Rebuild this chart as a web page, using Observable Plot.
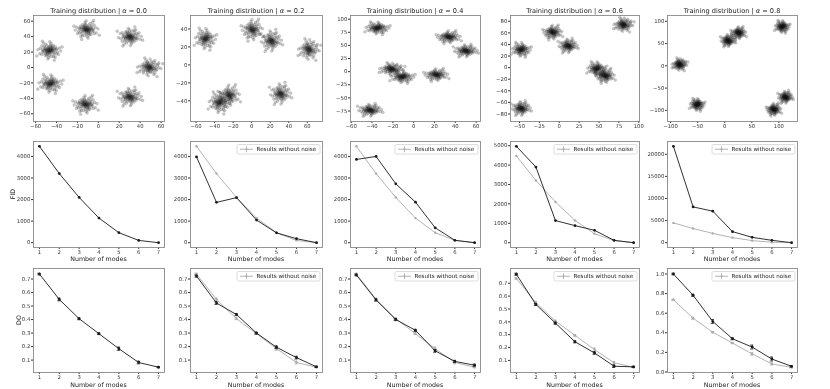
<!DOCTYPE html>
<html><head><meta charset="utf-8">
<script src="https://cdn.jsdelivr.net/npm/d3@7"></script>
<script src="https://cdn.jsdelivr.net/npm/@observablehq/plot@0.6"></script>
<style>
body{margin:0;background:#fff;}
#fig{position:relative;width:830px;height:389px;overflow:hidden;font-family:"DejaVu Sans",sans-serif;color:#222;background:#fff;}
#overlay{position:absolute;left:0;top:0;will-change:transform;transform:translateZ(0);}
</style></head>
<body><div id="fig"></div>
<script>
// ---------------- data ----------------
const alphas = ["0.0", "0.2", "0.4", "0.6", "0.8"];
const modes = [1, 2, 3, 4, 5, 6, 7];

// training distribution cluster centres
const clusterCenters = [
  [[-47,22],[-11,49],[30,40],[49,0],[-46,-21],[-12,-48],[30,-38]],
  [[-50,29],[1,39],[21,27],[62,17],[-35,-42],[-24,-34],[31,-32]],
  [[-35,83],[34,66],[50,40],[-21,5],[-11,-10],[22,-6],[-42,-73]],
  [[-48,31],[-8,61],[11,38],[81,74],[47,-2],[58,-14],[-48,-70]],
  [[106,88],[26,74],[6,57],[-83,3],[-51,-87],[91,-98],[112,-70]]
];
const clusterSpread = [4.4, 4.4, 4.4, 4.6, 5.2];
// hand-estimated unit offsets of a cluster's points
const unitCloud = [
[0.12,-0.31],[-0.84,0.47],[1.21,0.18],[-0.37,-1.12],[0.58,0.93],[-1.46,-0.22],[0.27,1.63],[0.91,-0.68],[-0.19,0.08],[1.83,-0.41],
[-1.07,1.24],[0.49,-1.71],[-0.62,-0.53],[0.03,0.71],[1.38,1.07],[-1.92,0.61],[0.72,0.29],[-0.33,-0.79],[1.02,-1.28],[-0.88,-1.41],
[0.21,-0.09],[-0.52,0.34],[2.24,0.77],[-2.08,-0.93],[0.41,2.13],[-0.71,1.88],[1.57,-0.98],[-1.31,-0.64],[0.83,0.02],[-0.08,-2.04],
[0.32,0.44],[-0.43,0.03],[0.04,-0.52],[1.13,0.61],[-0.98,0.19],[0.63,-0.27],[-0.17,1.01],[0.94,1.52],[-1.61,1.37],[2.51,-0.12],
[-2.43,0.28],[0.14,2.62],[-0.29,-2.47],[1.34,-2.01],[-1.22,2.18],[0.51,0.53],[-0.64,-0.18],[0.23,-1.03],[-0.79,-0.92],[1.49,0.38],
[0.07,0.27],[-0.24,-0.36],[0.38,-0.63],[-1.18,-0.04],[0.66,1.24],[-0.47,1.37],[1.71,0.49],[-1.63,-1.17],[0.97,-1.83],[-0.12,0.52],
[0.44,0.11],[-0.91,0.86],[1.27,-0.49],[-0.56,-1.58],[0.18,1.27],[-1.39,0.41],[2.03,-1.14],[-0.02,-1.33],[0.77,0.68],[-0.35,0.63],
[0.09,-0.14],[-0.15,0.21],[0.26,0.06],[-0.06,-0.24],[0.55,-0.08],[-0.41,-0.45],[0.33,0.78],[-0.69,0.12],
[2.82,1.05],[-2.71,-1.62],[1.12,-2.86],[-1.48,2.74]
];
const scatterXTicks = [
  [-60,-40,-20,0,20,40,60],
  [-60,-40,-20,0,20,40,60],
  [-60,-40,-20,0,20,40,60],
  [-50,-25,0,25,50,75,100],
  [-100,-50,0,50,100]
];
const scatterYTicks = [
  [-60,-40,-20,0,20,40,60],
  [-40,-20,0,20,40],
  [-75,-50,-25,0,25,50,75,100],
  [-80,-60,-40,-20,0,20,40,60,80],
  [-100,-50,0,50,100]
];

// FID
const fidNoNoise = [4470, 3205, 2100, 1140, 465, 105, 0];
const fidNoise = [
  [4470, 3205, 2100, 1140, 465, 105, 0],
  [3980, 1870, 2090, 1050, 455, 185, 0],
  [3860, 4000, 2730, 1880, 690, 110, 0],
  [4966, 3897, 1138, 879, 638, 121, 0],
  [21800, 8100, 7120, 2500, 1210, 530, 0]
];
const fidYTicks = [
  [0,1000,2000,3000,4000],
  [0,1000,2000,3000,4000],
  [0,1000,2000,3000,4000],
  [0,1000,2000,3000,4000,5000],
  [0,5000,10000,15000,20000]
];

// DO
const doNoNoise = [0.737, 0.549, 0.406, 0.295, 0.184, 0.082, 0.047];
const doNoNoiseErr = [0.006, 0.010, 0.007, 0.006, 0.012, 0.010, 0.004];
const doNoise = [
  [0.737, 0.549, 0.406, 0.295, 0.184, 0.082, 0.047],
  [0.722, 0.522, 0.437, 0.300, 0.195, 0.118, 0.050],
  [0.730, 0.545, 0.400, 0.320, 0.168, 0.090, 0.062],
  [0.770, 0.535, 0.390, 0.245, 0.158, 0.055, 0.050],
  [1.000, 0.783, 0.515, 0.339, 0.254, 0.132, 0.058]
];
const doNoiseErr = [
  [0.006, 0.010, 0.007, 0.006, 0.012, 0.010, 0.004],
  [0.008, 0.010, 0.008, 0.007, 0.010, 0.010, 0.005],
  [0.006, 0.008, 0.008, 0.008, 0.010, 0.008, 0.008],
  [0.008, 0.008, 0.008, 0.008, 0.010, 0.010, 0.005],
  [0.008, 0.010, 0.020, 0.010, 0.020, 0.020, 0.008]
];
const doYTicks = [
  [0.1,0.2,0.3,0.4,0.5,0.6,0.7],
  [0.1,0.2,0.3,0.4,0.5,0.6,0.7],
  [0.1,0.2,0.3,0.4,0.5,0.6,0.7],
  [0.1,0.2,0.3,0.4,0.5,0.6,0.7],
  [0.0,0.2,0.4,0.6,0.8,1.0]
];

// ---------------- layout (style) ----------------
const frameX = [[33,164],[190,322],[350,480],[510,639],[667,797]];
const rowY = [[15,121],[141,247],[268,372]];
const scatterXDomain = [[-62,63.3],[-66,76.4],[-60.7,64.2],[-61.3,100.9],[-105.7,134.4]];
const scatterYDomain = [[-70,67.4],[-63,55],[-95,107],[-93,90],[-125,113]];
const ML = 30, MR = 4, MT = 3, MB = 14;
const fig = document.getElementById("fig");
const BLACK = "#1a1a1a", GREY = "#aaaaaa";
const NS = "http://www.w3.org/2000/svg";

function pad(lo, hi){ const r = hi - lo; return [lo - 0.05*r, hi + 0.05*r]; }

function addPlot(col, row, xOpt, yOpt, marks){
  const [x0,x1] = frameX[col], [y0,y1] = rowY[row];
  const svg = Plot.plot({
    width: x1 - x0 + ML + MR,
    height: y1 - y0 + MT + MB,
    marginLeft: ML, marginRight: MR, marginTop: MT, marginBottom: MB,
    style: `background:none;font-size:5.3px;font-family:'DejaVu Sans',sans-serif;color:#333;overflow:visible;position:absolute;left:${x0-ML}px;top:${y0-MT}px;max-width:none;will-change:transform;transform:translateZ(0);`,
    x: Object.assign({label: null, tickSize: 2, tickPadding: 1.2}, xOpt),
    y: Object.assign({label: null, tickSize: 2, tickPadding: 1.2}, yOpt),
    marks: [...marks, Plot.frame({stroke: "#8a8a8a", strokeWidth: 0.9})]
  });
  fig.appendChild(svg);
}

// overlay svg for titles, axis labels and legends
const overlay = document.createElementNS(NS, "svg");
overlay.setAttribute("id", "overlay");
overlay.setAttribute("width", 830);
overlay.setAttribute("height", 389);
overlay.setAttribute("font-family", "DejaVu Sans, sans-serif");

function el(tag, attrs, parent){
  const e = document.createElementNS(NS, tag);
  for (const k in attrs) e.setAttribute(k, attrs[k]);
  (parent || overlay).appendChild(e);
  return e;
}
function addText(str, x, y, size, rot, italicPart){
  const t = el("text", {x, y, "font-size": size, "text-anchor": "middle", "dominant-baseline": "central", fill: "#1a1a1a"});
  if (rot) t.setAttribute("transform", `rotate(-90 ${x} ${y})`);
  if (italicPart) {
    const [a, b, c] = italicPart;
    const s1 = el("tspan", {}, t); s1.textContent = a;
    const s2 = el("tspan", {"font-style": "italic"}, t); s2.textContent = b;
    const s3 = el("tspan", {}, t); s3.textContent = c;
  } else t.textContent = str;
  return t;
}
function addLegend(col, row){
  const [x0,x1] = frameX[col], [y0] = rowY[row];
  const lx = x1 - 2 - 83, ly = y0 + 3.5;
  el("rect", {x: lx, y: ly, width: 83, height: 9.5, rx: 1.5, fill: "white", "fill-opacity": 0.85, stroke: "#d4d4d4", "stroke-width": 0.8});
  el("line", {x1: lx + 3, x2: lx + 16, y1: ly + 4.75, y2: ly + 4.75, stroke: GREY, "stroke-width": 0.9});
  el("line", {x1: lx + 9.5, x2: lx + 9.5, y1: ly + 1.8, y2: ly + 7.7, stroke: GREY, "stroke-width": 0.8});
  el("circle", {cx: lx + 9.5, cy: ly + 4.75, r: 1, fill: GREY});
  const t = el("text", {x: lx + 19.5, y: ly + 4.9, "font-size": 5.6, "dominant-baseline": "central", fill: "#1a1a1a"});
  t.textContent = "Results without noise";
}

const fmtInt = d3.format("d");
const fmt1 = d3.format(".1f");

// ---------------- row 1: scatter ----------------
for (let c = 0; c < 5; c++) {
  const pts = [];
  clusterCenters[c].forEach(([cx, cy], k) => {
    unitCloud.forEach(([u, v]) => {
      const t = k % 4;
      const uu = t === 1 ? -u : t === 3 ? -v : u;
      const vv = t === 2 ? -v : t === 3 ? u : v;
      pts.push({x: cx + uu*clusterSpread[c], y: cy + vv*clusterSpread[c]});
    });
  });
  addPlot(c, 0,
    {domain: scatterXDomain[c], ticks: scatterXTicks[c], tickFormat: fmtInt},
    {domain: scatterYDomain[c], ticks: scatterYTicks[c], tickFormat: fmtInt},
    [Plot.dot(pts, {x: "x", y: "y", r: 1.6, fill: "#111", fillOpacity: 0.24, stroke: "#111", strokeOpacity: 0.1, strokeWidth: 0.4})]
  );
  const [x0,x1] = frameX[c];
  addText(null, (x0+x1)/2, 10.5, 6.6, false, ["Training distribution | ", "α", " = " + alphas[c]]);
}

// ---------------- row 2: FID ----------------
for (let c = 0; c < 5; c++) {
  const main = modes.map((m,i) => ({x: m, y: fidNoise[c][i]}));
  const base = modes.map((m,i) => ({x: m, y: fidNoNoise[i]}));
  const all = c === 0 ? main : main.concat(base);
  const marks = [];
  if (c > 0) {
    marks.push(Plot.line(base, {x: "x", y: "y", stroke: GREY, strokeWidth: 0.9}));
    marks.push(Plot.dot(base, {x: "x", y: "y", r: 1.2, fill: GREY}));
  }
  marks.push(Plot.line(main, {x: "x", y: "y", stroke: BLACK, strokeWidth: 0.9}));
  marks.push(Plot.dot(main, {x: "x", y: "y", r: 1.4, fill: BLACK}));
  addPlot(c, 1,
    {domain: [0.7, 7.3], ticks: modes, tickFormat: fmtInt},
    {domain: pad(d3.min(all, d => d.y), d3.max(all, d => d.y)), ticks: fidYTicks[c], tickFormat: fmtInt},
    marks);
  const [x0,x1] = frameX[c];
  addText("Number of modes", (x0+x1)/2, 258.5, 6.3);
  if (c > 0) addLegend(c, 1);
}
addText("FID", 12, 194, 6.3, true);

// ---------------- row 3: DO ----------------
for (let c = 0; c < 5; c++) {
  const main = modes.map((m,i) => ({x: m, y: doNoise[c][i], e: doNoiseErr[c][i]}));
  const base = modes.map((m,i) => ({x: m, y: doNoNoise[i], e: doNoNoiseErr[i]}));
  const all = c === 0 ? main : main.concat(base);
  const marks = [];
  const errMarks = (data, color) => [
    Plot.ruleX(data, {x: "x", y1: d => d.y - d.e, y2: d => d.y + d.e, stroke: color, strokeWidth: 0.8}),
    Plot.ruleY(data, {y: d => d.y - d.e, x1: d => d.x - 0.08, x2: d => d.x + 0.08, stroke: color, strokeWidth: 0.8}),
    Plot.ruleY(data, {y: d => d.y + d.e, x1: d => d.x - 0.08, x2: d => d.x + 0.08, stroke: color, strokeWidth: 0.8})
  ];
  if (c > 0) {
    marks.push(Plot.line(base, {x: "x", y: "y", stroke: GREY, strokeWidth: 0.9}));
    marks.push(...errMarks(base, GREY));
    marks.push(Plot.dot(base, {x: "x", y: "y", r: 1.2, fill: GREY}));
  }
  marks.push(Plot.line(main, {x: "x", y: "y", stroke: BLACK, strokeWidth: 0.9}));
  marks.push(...errMarks(main, BLACK));
  marks.push(Plot.dot(main, {x: "x", y: "y", r: 1.4, fill: BLACK}));
  const dom = pad(d3.min(all, d => d.y - d.e), d3.max(all, d => d.y + d.e));
  addPlot(c, 2,
    {domain: [0.7, 7.3], ticks: modes, tickFormat: fmtInt},
    {domain: dom, ticks: doYTicks[c].filter(t => t >= dom[0] && t <= dom[1]), tickFormat: fmt1},
    marks);
  const [x0,x1] = frameX[c];
  addText("Number of modes", (x0+x1)/2, 384, 6.3);
  if (c > 0) addLegend(c, 2);
}
addText("DO", 18, 320, 6.3, true);

fig.appendChild(overlay);
</script>
</body></html>
